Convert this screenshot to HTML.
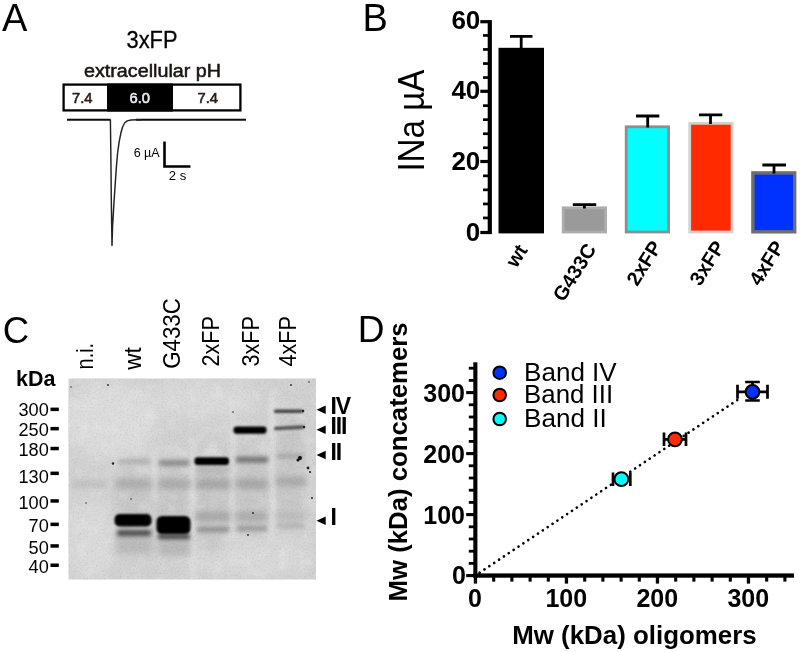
<!DOCTYPE html>
<html>
<head>
<meta charset="utf-8">
<title>Figure</title>
<style>
html,body{margin:0;padding:0;background:#fff;}
body{width:800px;height:652px;overflow:hidden;font-family:"Liberation Sans",sans-serif;}
svg{display:block;}
text{font-family:"Liberation Sans",sans-serif;fill:#000;}
.b{font-weight:bold;}
</style>
</head>
<body>
<svg width="800" height="652" viewBox="0 0 800 652">
<defs>
<filter id="soft" x="-5%" y="-5%" width="110%" height="110%"><feGaussianBlur stdDeviation="0.55"/></filter>
<filter id="bl1" x="-20%" y="-60%" width="140%" height="220%"><feGaussianBlur stdDeviation="1.1"/></filter>
<filter id="bl2" x="-20%" y="-80%" width="140%" height="260%"><feGaussianBlur stdDeviation="2"/></filter>
<filter id="bl3" x="-30%" y="-100%" width="160%" height="300%"><feGaussianBlur stdDeviation="3.2"/></filter>
<filter id="bl6" x="-30%" y="-30%" width="160%" height="160%"><feGaussianBlur stdDeviation="7"/></filter>
<filter id="grain" x="0" y="0" width="100%" height="100%">
<feTurbulence type="fractalNoise" baseFrequency="0.55" numOctaves="2" seed="7" result="n"/>
<feColorMatrix type="matrix" values="0 0 0 0 0  0 0 0 0 0  0 0 0 0 0  0.7 0.7 0.7 0 -1.0"/>
</filter>
<filter id="grain2" x="0" y="0" width="100%" height="100%">
<feTurbulence type="fractalNoise" baseFrequency="0.09" numOctaves="2" seed="3" result="n"/>
<feColorMatrix type="matrix" values="0 0 0 0 1  0 0 0 0 1  0 0 0 0 1  1.2 1.2 0 0 -1.0"/>
</filter>
<filter id="bl4" x="-60%" y="-20%" width="220%" height="140%"><feGaussianBlur stdDeviation="2.6"/></filter>
<clipPath id="blotclip"><rect x="68.5" y="378.5" width="247.5" height="201"/></clipPath>
</defs>
<rect x="0" y="0" width="800" height="652" fill="#ffffff"/>
<g filter="url(#soft)">

<!-- ================= PANEL A ================= -->
<g id="panelA">
<text x="2" y="31.2" font-size="38">A</text>
<text x="126.5" y="48.2" font-size="24.6" textLength="51" lengthAdjust="spacingAndGlyphs" stroke="#000" stroke-width="0.3">3xFP</text>
<text x="84" y="76.5" font-size="18" textLength="137" lengthAdjust="spacingAndGlyphs" stroke="#1a1410" stroke-width="0.5" style="fill:#1a1410">extracellular pH</text>
<rect x="63.6" y="84.6" width="176.8" height="25.8" fill="#fff" stroke="#000" stroke-width="2.3"/>
<rect x="107" y="83.5" width="66" height="28" fill="#000"/>
<text x="72" y="102.9" font-size="15" textLength="20.5" lengthAdjust="spacingAndGlyphs" stroke="#2a1c14" stroke-width="0.6" style="fill:#2a1c14">7.4</text>
<text x="129.5" y="102.9" font-size="15" textLength="20.5" lengthAdjust="spacingAndGlyphs" stroke="#e8eef4" stroke-width="0.6" style="fill:#e8eef4">6.0</text>
<text x="197.5" y="102.9" font-size="15" textLength="20.5" lengthAdjust="spacingAndGlyphs" stroke="#2a1c14" stroke-width="0.6" style="fill:#2a1c14">7.4</text>
<!-- current trace -->
<path d="M67 119.7 L110.6 119.7 M136 119.8 L246 119.8" fill="none" stroke="#111" stroke-width="2.1"/>
<path d="M110.4 119.5 L110.8 150 L111.3 200 L112 245.6 L112.6 226 L114 202.3 L115.3 183 L116.3 168 L117.6 153 L119.1 142.2 L121 132.5 L122.6 127 L124.6 123 L127.2 120.9 L131 120 L137 119.7 L141 119.7" fill="none" stroke="#222" stroke-width="1.45" stroke-linejoin="round"/>
<!-- scale bar -->
<path d="M164.5 141.5 L164.5 166.5 L190.5 166.5" fill="none" stroke="#000" stroke-width="2.6"/>
<text x="133.7" y="157" font-size="12" textLength="26" lengthAdjust="spacingAndGlyphs">6 µA</text>
<text x="168.8" y="179.7" font-size="12" textLength="17.5" lengthAdjust="spacingAndGlyphs">2 s</text>
</g>

<!-- ================= PANEL B ================= -->
<g id="panelB">
<text x="362.6" y="30.6" font-size="38">B</text>
<text transform="translate(424.4,171.6) rotate(-90)" font-size="36" textLength="102" lengthAdjust="spacingAndGlyphs">INa µA</text>
<!-- axis -->
<rect x="487.7" y="20.1" width="4.2" height="214" fill="#000"/>
<g fill="#000">
<rect x="480.3" y="20.1" width="9" height="3.2"/>
<rect x="480.3" y="89.7" width="9" height="3.2"/>
<rect x="480.3" y="159.9" width="9" height="3.2"/>
<rect x="480.3" y="230.9" width="9" height="3.2"/>
</g>
<g fill="#000" id="bminor">
<rect x="483" y="34.1" width="6" height="2.7"/>
<rect x="483" y="48.1" width="6" height="2.7"/>
<rect x="483" y="62.2" width="6" height="2.7"/>
<rect x="483" y="76.2" width="6" height="2.7"/>
<rect x="483" y="104.3" width="6" height="2.7"/>
<rect x="483" y="118.3" width="6" height="2.7"/>
<rect x="483" y="132.4" width="6" height="2.7"/>
<rect x="483" y="146.4" width="6" height="2.7"/>
<rect x="483" y="174.5" width="6" height="2.7"/>
<rect x="483" y="188.5" width="6" height="2.7"/>
<rect x="483" y="202.6" width="6" height="2.7"/>
<rect x="483" y="216.6" width="6" height="2.7"/>
</g>
<g font-size="26" class="b" text-anchor="end" style="font-weight:bold">
<text x="480.3" y="29.3">60</text>
<text x="480.3" y="98.8">40</text>
<text x="480.3" y="169.5">20</text>
<text x="480.3" y="240.6">0</text>
</g>
<!-- bars -->
<rect x="498.5" y="47.8" width="45.5" height="185.6" fill="#000"/>
<rect x="563.2" y="207.8" width="42.4" height="24.2" fill="#9a9a9a" stroke="#adadad" stroke-width="2.8"/>
<rect x="626.2" y="126.8" width="42.4" height="105.2" fill="#00ffff" stroke="#8e8e8e" stroke-width="2.8"/>
<rect x="689.7" y="123.3" width="42.4" height="108.7" fill="#ff2a00" stroke="#d2d2d2" stroke-width="2.8"/>
<rect x="752.9" y="172.9" width="41.8" height="58.9" fill="#0033ff" stroke="#6e6e6e" stroke-width="3.4"/>
<!-- error bars -->
<g stroke="#000" stroke-width="2.8" fill="none">
<path d="M521.2 48 V36.3 M510 36.3 H532.5"/>
<path d="M584.4 208.5 V204.6 M572.8 204.6 H596.2"/>
<path d="M647.7 127.5 V116 M636 116 H659.3"/>
<path d="M710.5 124 V114.8 M699 114.8 H722.3"/>
<path d="M774 173.5 V165 M762.4 165 H786"/>
</g>
<!-- x labels -->
<g font-size="20" class="b" text-anchor="end" style="font-weight:bold">
<text transform="translate(528.2,250) rotate(-58)">wt</text>
<text transform="translate(597,249) rotate(-58)">G433C</text>
<text transform="translate(662.5,246.5) rotate(-58)">2xFP</text>
<text transform="translate(725.5,246.5) rotate(-58)">3xFP</text>
<text transform="translate(785,246.5) rotate(-58)">4xFP</text>
</g>
</g>

<!-- ================= PANEL C ================= -->
<g id="panelC">
<text x="2.7" y="342.5" font-size="36.5">C</text>
<text x="16" y="386" font-size="21.5" class="b" style="font-weight:bold">kDa</text>
<g font-size="18">
<text x="18.5" y="416.0" textLength="30.3" lengthAdjust="spacingAndGlyphs">300</text>
<text x="18.5" y="436.2" textLength="30.3" lengthAdjust="spacingAndGlyphs">250</text>
<text x="18.5" y="456.1" textLength="30.3" lengthAdjust="spacingAndGlyphs">180</text>
<text x="18.5" y="482.5" textLength="30.3" lengthAdjust="spacingAndGlyphs">130</text>
<text x="18.5" y="508.6" textLength="30.3" lengthAdjust="spacingAndGlyphs">100</text>
<text x="28.6" y="532.0" textLength="20.2" lengthAdjust="spacingAndGlyphs">70</text>
<text x="28.6" y="553.6" textLength="20.2" lengthAdjust="spacingAndGlyphs">50</text>
<text x="28.6" y="572.6" textLength="20.2" lengthAdjust="spacingAndGlyphs">40</text>
</g>
<g fill="#000">
<rect x="50.5" y="407.6" width="8.3" height="3.5"/>
<rect x="50.5" y="426.9" width="8.3" height="3.5"/>
<rect x="50.5" y="446.8" width="8.3" height="3.5"/>
<rect x="50.5" y="471.6" width="8.3" height="3.5"/>
<rect x="50.5" y="499.2" width="8.3" height="3.5"/>
<rect x="50.5" y="522.6" width="8.3" height="3.5"/>
<rect x="50.5" y="544.2" width="8.3" height="3.5"/>
<rect x="50.5" y="563.5" width="8.3" height="3.5"/>
</g>
<!-- lane labels -->
<g font-size="24.5" lengthAdjust="spacingAndGlyphs">
<text transform="translate(93.4,369.4) rotate(-90)" textLength="26.5" lengthAdjust="spacingAndGlyphs">n.i.</text>
<text transform="translate(140.7,369.7) rotate(-90)" textLength="22.5" lengthAdjust="spacingAndGlyphs">wt</text>
<text transform="translate(180,368.7) rotate(-90)" textLength="70.5" lengthAdjust="spacingAndGlyphs">G433C</text>
<text transform="translate(218.5,366.5) rotate(-90)" textLength="50.5" lengthAdjust="spacingAndGlyphs">2xFP</text>
<text transform="translate(258.5,366.5) rotate(-90)" textLength="50.5" lengthAdjust="spacingAndGlyphs">3xFP</text>
<text transform="translate(296.2,366.5) rotate(-90)" textLength="50.5" lengthAdjust="spacingAndGlyphs">4xFP</text>
</g>
<!-- blot -->
<g clip-path="url(#blotclip)">
<rect x="68" y="378" width="249" height="202" fill="#d1d1d1"/>
<!-- lighter / darker clouds -->
<g filter="url(#bl6)">
<ellipse cx="110" cy="420" rx="48" ry="38" fill="#dcdcdc"/>
<ellipse cx="200" cy="400" rx="60" ry="18" fill="#d9d9d9"/>
<ellipse cx="90" cy="540" rx="25" ry="40" fill="#dadada"/>
<ellipse cx="250" cy="558" rx="65" ry="18" fill="#d9d9d9"/>
<ellipse cx="290" cy="470" rx="16" ry="60" fill="#c6c6c6"/>
<ellipse cx="212" cy="500" rx="17" ry="55" fill="#c6c6c6"/>
<ellipse cx="250" cy="490" rx="16" ry="50" fill="#c6c6c6"/>
<ellipse cx="172" cy="505" rx="16" ry="42" fill="#c5c5c5"/>
<ellipse cx="133" cy="505" rx="16" ry="42" fill="#c6c6c6"/>
</g>
<!-- light streaks between lanes -->
<g filter="url(#bl4)" fill="#dedede">
<rect x="152.5" y="452" width="4" height="50"/>
<rect x="190.5" y="448" width="4.5" height="135"/>
<rect x="230.5" y="400" width="4" height="140"/>
<rect x="270" y="392" width="4.5" height="150"/>
<rect x="307" y="440" width="5" height="70" fill="#d6d6d6"/>
<path d="M200 456 L212 441 L224 456 Z" fill="#d9d9d9"/>
</g>
<rect x="68" y="378" width="249" height="202" fill="#fff" filter="url(#grain2)" opacity="0.22"/>
<!-- faint bands -->
<g filter="url(#bl3)">
<rect x="72" y="481" width="36" height="6" fill="#bdbdbd"/>
<rect x="116" y="479" width="36" height="10" fill="#adadad"/>
<rect x="158" y="479" width="32" height="10" fill="#ababab"/>
<rect x="196" y="479" width="34" height="10" fill="#a6a6a6"/>
<rect x="236" y="479" width="32" height="10" fill="#a6a6a6"/>
<rect x="276" y="477" width="30" height="9" fill="#a8a8a8"/>
<rect x="196" y="467" width="34" height="6" fill="#b4b4b4"/>
<rect x="116" y="536" width="36" height="18" fill="#bcbcbc"/>
<rect x="158" y="540" width="32" height="16" fill="#bababa"/>
<rect x="196" y="512" width="34" height="9" fill="#a6a6a6"/>
<rect x="236" y="512" width="32" height="9" fill="#aaaaaa"/>
<rect x="276" y="512" width="30" height="8" fill="#bbbbbb"/>
</g>
<g filter="url(#bl2)">
<rect x="118" y="459.5" width="32" height="4" fill="#aaaaaa"/>
<rect x="159" y="460" width="30" height="6" fill="#8c8c8c"/>
<rect x="197" y="527" width="32" height="5" fill="#8e8e8e"/>
<rect x="237" y="526" width="30" height="5" fill="#9a9a9a"/>
<rect x="277" y="524" width="28" height="4" fill="#b0b0b0"/>
<rect x="236" y="457" width="32" height="5.5" fill="#6e6e6e"/>
<rect x="277" y="454" width="26" height="4" fill="#a2a2a2"/>
<rect x="117" y="530" width="34" height="6" fill="#4a4a4a"/>
<rect x="158" y="534" width="32" height="5" fill="#3a3a3a"/>
</g>
<!-- strong bands -->
<g filter="url(#bl1)">
<rect x="114.5" y="514" width="37" height="12.5" rx="5" fill="#000"/>
<rect x="156.5" y="516" width="34" height="18" rx="5.5" fill="#000"/>
<rect x="194.5" y="457.3" width="34.5" height="7.6" rx="3" fill="#000"/>
<rect x="233.5" y="426.5" width="33" height="7.2" rx="3" fill="#000"/>
<rect x="274" y="409.6" width="29" height="3.4" rx="1.5" fill="#444"/>
<rect x="274" y="426" width="30" height="3.6" rx="1.5" fill="#555" transform="rotate(-3 289 428)"/>
</g>
<rect x="68" y="378" width="249" height="202" fill="#000" filter="url(#grain)" opacity="0.12"/>
<!-- specks -->
<g fill="#222" filter="url(#soft)">
<circle cx="113" cy="463.5" r="1.2"/><circle cx="108" cy="385" r="0.9"/><circle cx="71" cy="387" r="0.7"/>
<circle cx="300" cy="458" r="2" fill="#111"/><circle cx="298" cy="460" r="1.5" fill="#111"/>
<circle cx="308" cy="468" r="1.4"/><circle cx="310" cy="472" r="1.1"/>
<circle cx="312" cy="498" r="1"/><circle cx="253" cy="513" r="0.9"/><circle cx="248" cy="535" r="0.9"/>
<circle cx="233" cy="412" r="0.8"/><circle cx="291" cy="385" r="0.9"/><circle cx="309" cy="382" r="0.8"/>
<circle cx="86" cy="503" r="0.7"/><circle cx="131" cy="499" r="0.7"/><circle cx="303" cy="411" r="1.3"/><circle cx="304" cy="427" r="1.3"/>
</g>
</g>
<!-- arrowheads + roman labels -->
<g fill="#000">
<path d="M316.5 409.8 L325.7 405.6 L325.7 414 Z"/>
<path d="M316.5 429.7 L325.7 425.5 L325.7 433.9 Z"/>
<path d="M316.5 455 L325.7 450.8 L325.7 459.2 Z"/>
<path d="M316.5 520.7 L325.7 516.5 L325.7 524.9 Z"/>
</g>
<g font-size="23" class="b" style="font-weight:bold" letter-spacing="-1.2">
<text x="330.5" y="413.5">IV</text>
<text x="330.5" y="433.5">III</text>
<text x="330.5" y="460">II</text>
<text x="330.5" y="524.6">I</text>
</g>
</g>


<!-- ================= PANEL D ================= -->
<g id="panelD">
<text x="357.8" y="342" font-size="37">D</text>
<text transform="translate(407.3,601.5) rotate(-90)" font-size="25" textLength="279.2" lengthAdjust="spacingAndGlyphs" class="b" style="font-weight:bold">Mw (kDa) concatemers</text>
<text x="512.2" y="644" font-size="25.5" textLength="244.5" lengthAdjust="spacingAndGlyphs" class="b" style="font-weight:bold">Mw (kDa) oligomers</text>
<!-- axes -->
<rect x="473.3" y="362.3" width="4.1" height="215.4" fill="#000"/>
<rect x="473.4" y="573.4" width="320.6" height="4.3" fill="#000"/>
<g fill="#000" id="dticks">
<rect x="466.2" y="574.05" width="8" height="3.1"/>
<rect x="468.8" y="562.00" width="5.5" height="2.8"/>
<rect x="468.8" y="549.80" width="5.5" height="2.8"/>
<rect x="468.8" y="537.60" width="5.5" height="2.8"/>
<rect x="468.8" y="525.40" width="5.5" height="2.8"/>
<rect x="466.2" y="513.05" width="8" height="3.1"/>
<rect x="468.8" y="501.00" width="5.5" height="2.8"/>
<rect x="468.8" y="488.80" width="5.5" height="2.8"/>
<rect x="468.8" y="476.60" width="5.5" height="2.8"/>
<rect x="468.8" y="464.40" width="5.5" height="2.8"/>
<rect x="466.2" y="452.05" width="8" height="3.1"/>
<rect x="468.8" y="440.00" width="5.5" height="2.8"/>
<rect x="468.8" y="427.80" width="5.5" height="2.8"/>
<rect x="468.8" y="415.60" width="5.5" height="2.8"/>
<rect x="468.8" y="403.40" width="5.5" height="2.8"/>
<rect x="466.2" y="391.05" width="8" height="3.1"/>
<rect x="468.8" y="379.00" width="5.5" height="2.8"/>
<rect x="468.8" y="366.80" width="5.5" height="2.8"/>
<rect x="473.80" y="576" width="3.3" height="7.6"/>
<rect x="492.15" y="576" width="3.1" height="5.6"/>
<rect x="510.35" y="576" width="3.1" height="5.6"/>
<rect x="528.55" y="576" width="3.1" height="5.6"/>
<rect x="546.75" y="576" width="3.1" height="5.6"/>
<rect x="564.80" y="576" width="3.3" height="7.6"/>
<rect x="583.15" y="576" width="3.1" height="5.6"/>
<rect x="601.35" y="576" width="3.1" height="5.6"/>
<rect x="619.55" y="576" width="3.1" height="5.6"/>
<rect x="637.75" y="576" width="3.1" height="5.6"/>
<rect x="655.80" y="576" width="3.3" height="7.6"/>
<rect x="674.15" y="576" width="3.1" height="5.6"/>
<rect x="692.35" y="576" width="3.1" height="5.6"/>
<rect x="710.55" y="576" width="3.1" height="5.6"/>
<rect x="728.75" y="576" width="3.1" height="5.6"/>
<rect x="746.80" y="576" width="3.3" height="7.6"/>
<rect x="765.15" y="576" width="3.1" height="5.6"/>
<rect x="783.35" y="576" width="3.1" height="5.6"/>
</g>
<g font-size="25" class="b" text-anchor="end" style="font-weight:bold">
<text x="465" y="401.6">300</text>
<text x="465" y="462.6">200</text>
<text x="465" y="523.6">100</text>
<text x="466" y="584">0</text>
</g>
<g font-size="25" class="b" text-anchor="middle" style="font-weight:bold">
<text x="475" y="607.3">0</text>
<text x="566.3" y="607.3">100</text>
<text x="657.3" y="607.3">200</text>
<text x="748.3" y="607.3">300</text>
</g>
<!-- dotted identity line -->
<line x1="479.6" y1="572.7" x2="741.5" y2="397.2" stroke="#000" stroke-width="2.6" stroke-linecap="round" stroke-dasharray="0.1 5.75"/>
<!-- legend -->
<g stroke="#000" stroke-width="2">
<circle cx="499.7" cy="372.7" r="6.3" fill="#0033ff"/>
<circle cx="499.7" cy="395" r="6.3" fill="#ff2a00"/>
<circle cx="499.7" cy="419" r="6.3" fill="#00ffff"/>
</g>
<g font-size="25">
<text x="524.1" y="381" textLength="92.6" lengthAdjust="spacingAndGlyphs">Band IV</text>
<text x="524.1" y="402.6" textLength="89" lengthAdjust="spacingAndGlyphs">Band III</text>
<text x="524.1" y="426.6" textLength="82.7" lengthAdjust="spacingAndGlyphs">Band II</text>
</g>
<!-- data points -->
<g stroke="#000" stroke-width="2.7" fill="none">
<path d="M737.5 391.8 H767.5 M737.5 384.8 V398.8 M767.5 384.8 V398.8 M752.5 382 V400.5 M745.2 382 H759.8 M745.2 400.5 H759.8"/>
<path d="M664 439.3 H686 M664 432.5 V446 M686 432.5 V446"/>
<path d="M613 479.2 H630.3 M613 472.5 V486 M630.3 472.5 V486"/>
</g>
<g stroke="#000" stroke-width="2">
<circle cx="752.5" cy="391.8" r="6.9" fill="#0033ff"/>
<circle cx="675" cy="439.3" r="6.9" fill="#ff2a00"/>
<circle cx="621.4" cy="479.2" r="6.9" fill="#00ffff"/>
</g>
</g>


</g>
</svg>
</body>
</html>
